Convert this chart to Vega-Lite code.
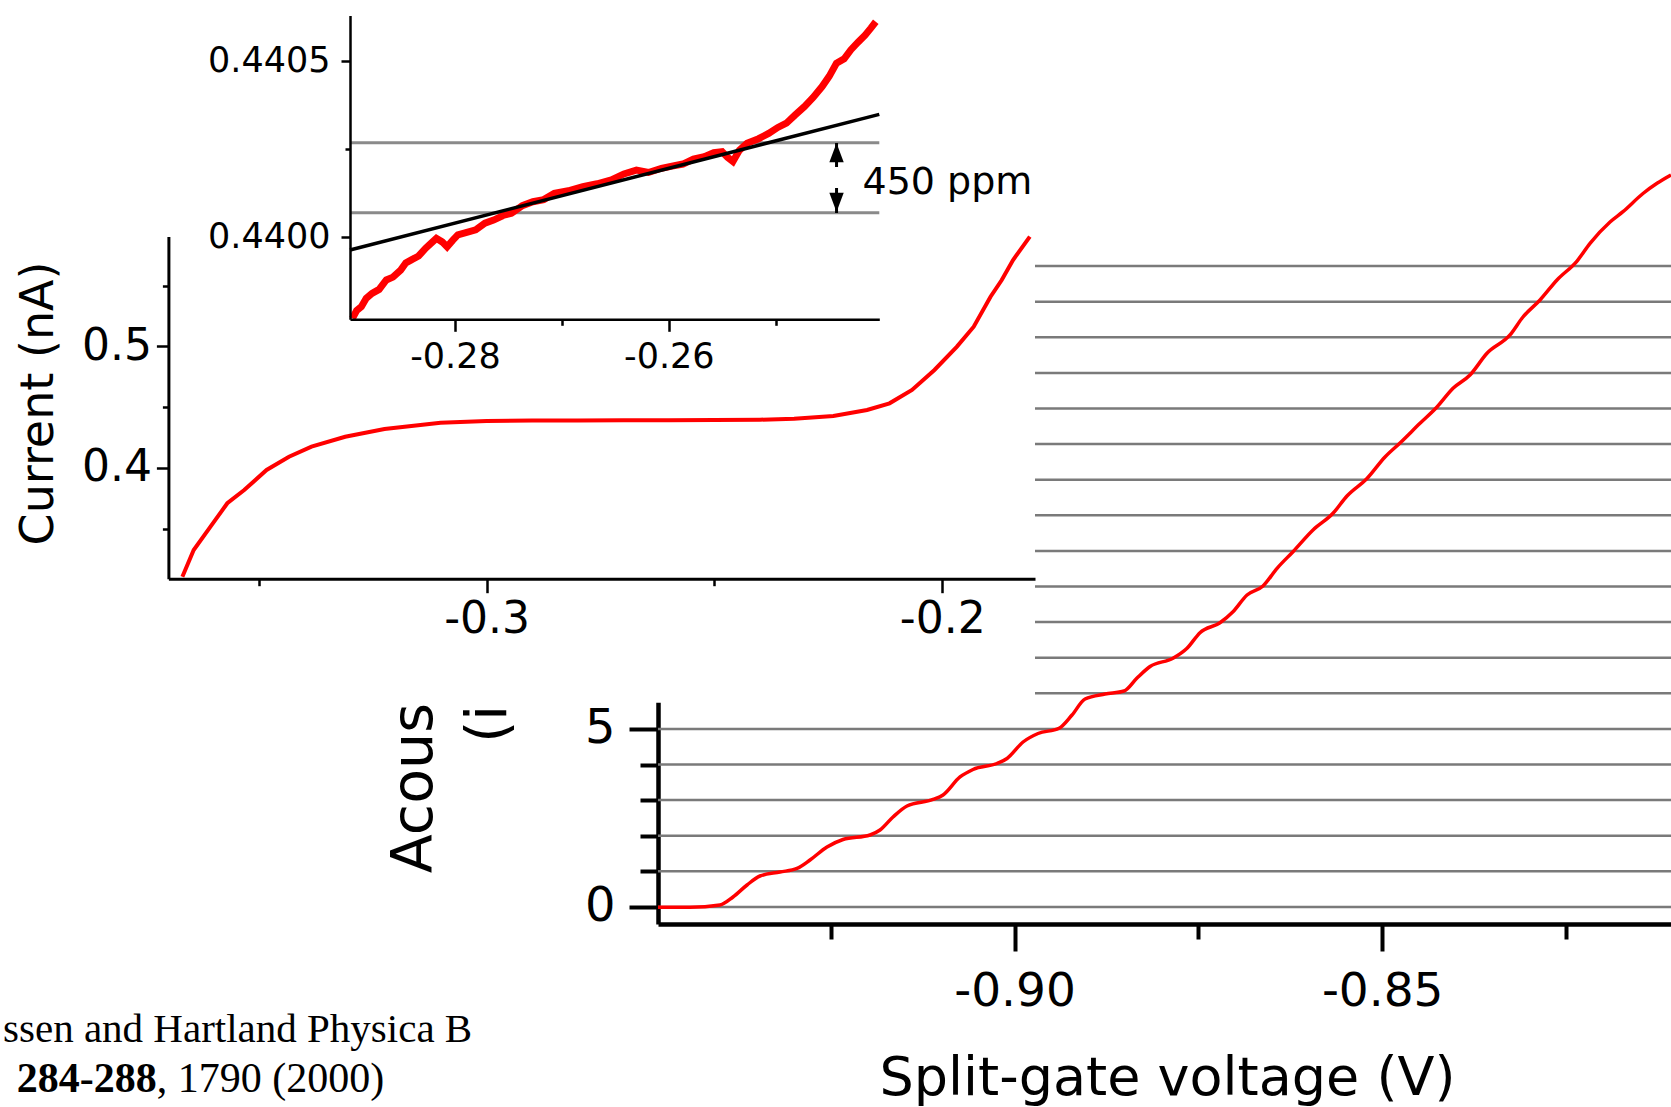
{
  "$schema": "https://vega.github.io/schema/vega-lite/v6.json",
  "width": 1671,
  "height": 1107,
  "autosize": {"type": "none"},
  "padding": 0,
  "background": "white",
  "config": {
    "view": {"stroke": null},
    "axis": {
      "grid": false,
      "domainColor": "black",
      "tickColor": "black",
      "labelColor": "black",
      "titleColor": "black",
      "labelFont": "DejaVu Sans",
      "titleFont": "DejaVu Sans",
      "titleFontWeight": "normal",
      "labelOverlap": false,
      "labelFlush": false
    }
  },
  "datasets": {
    "acoustic": [
      {"v": -0.94848, "i": -0.011}, {"v": -0.94413, "i": -0.011}, {"v": -0.94005, "i": 0.053},
      {"v": -0.93828, "i": 0.278}, {"v": -0.93637, "i": 0.615}, {"v": -0.93461, "i": 0.868},
      {"v": -0.93189, "i": 0.98}, {"v": -0.92958, "i": 1.079}, {"v": -0.92781, "i": 1.317},
      {"v": -0.9255, "i": 1.683}, {"v": -0.92332, "i": 1.893}, {"v": -0.91965, "i": 2.02},
      {"v": -0.91829, "i": 2.16}, {"v": -0.91652, "i": 2.525}, {"v": -0.91462, "i": 2.834},
      {"v": -0.91108, "i": 3.017}, {"v": -0.90972, "i": 3.143}, {"v": -0.90741, "i": 3.649},
      {"v": -0.90564, "i": 3.86}, {"v": -0.90238, "i": 4.028}, {"v": -0.90102, "i": 4.169},
      {"v": -0.89884, "i": 4.632}, {"v": -0.8968, "i": 4.871}, {"v": -0.89395, "i": 5.017},
      {"v": -0.89218, "i": 5.39}, {"v": -0.89041, "i": 5.84}, {"v": -0.88769, "i": 5.98},
      {"v": -0.88511, "i": 6.065}, {"v": -0.88334, "i": 6.43}, {"v": -0.88157, "i": 6.753},
      {"v": -0.87845, "i": 6.983}, {"v": -0.87654, "i": 7.264}, {"v": -0.87478, "i": 7.702},
      {"v": -0.87206, "i": 7.983}, {"v": -0.87029, "i": 8.292}, {"v": -0.86838, "i": 8.761},
      {"v": -0.86621, "i": 9.014}, {"v": -0.8643, "i": 9.511}, {"v": -0.86213, "i": 9.978},
      {"v": -0.85941, "i": 10.587}, {"v": -0.85669, "i": 11.056}, {"v": -0.85479, "i": 11.542},
      {"v": -0.85207, "i": 12.034}, {"v": -0.84962, "i": 12.638}, {"v": -0.84758, "i": 13.031},
      {"v": -0.84486, "i": 13.584}, {"v": -0.84255, "i": 14.042}, {"v": -0.84037, "i": 14.567},
      {"v": -0.83806, "i": 14.941}, {"v": -0.83575, "i": 15.551}, {"v": -0.83262, "i": 16.065},
      {"v": -0.83086, "i": 16.57}, {"v": -0.82854, "i": 17.048}, {"v": -0.82623, "i": 17.61},
      {"v": -0.82351, "i": 18.143}, {"v": -0.82174, "i": 18.64}, {"v": -0.81902, "i": 19.239},
      {"v": -0.81726, "i": 19.528}, {"v": -0.81454, "i": 20.039}, {"v": -0.81263, "i": 20.326},
      {"v": -0.81073, "i": 20.559}
    ],
    "gridlevels": [
      {"level": 0}, {"level": 1}, {"level": 2}, {"level": 3}, {"level": 4}, {"level": 5},
      {"level": 6}, {"level": 7}, {"level": 8}, {"level": 9}, {"level": 10}, {"level": 11},
      {"level": 12}, {"level": 13}, {"level": 14}, {"level": 15}, {"level": 16}, {"level": 17},
      {"level": 18}
    ],
    "current": [
      {"v": -0.36677, "i": 0.3103}, {"v": -0.36429, "i": 0.3323}, {"v": -0.3606, "i": 0.3515},
      {"v": -0.35691, "i": 0.3708}, {"v": -0.3532, "i": 0.3817}, {"v": -0.34829, "i": 0.3982},
      {"v": -0.34337, "i": 0.4091}, {"v": -0.33843, "i": 0.4174}, {"v": -0.33104, "i": 0.4256},
      {"v": -0.32241, "i": 0.432}, {"v": -0.3101, "i": 0.4371}, {"v": -0.3, "i": 0.4386},
      {"v": -0.29, "i": 0.4389}, {"v": -0.28, "i": 0.439}, {"v": -0.27, "i": 0.4391},
      {"v": -0.26, "i": 0.4392}, {"v": -0.25, "i": 0.4393}, {"v": -0.24, "i": 0.4396},
      {"v": -0.2325, "i": 0.4404}, {"v": -0.2239, "i": 0.4427}, {"v": -0.2165, "i": 0.4476},
      {"v": -0.21157, "i": 0.4531}, {"v": -0.20663, "i": 0.4641}, {"v": -0.20171, "i": 0.4806},
      {"v": -0.19677, "i": 0.4998}, {"v": -0.19309, "i": 0.5162}, {"v": -0.1894, "i": 0.5409},
      {"v": -0.18694, "i": 0.5547}, {"v": -0.18446, "i": 0.5712}, {"v": -0.18077, "i": 0.5904}
    ],
    "inset": [
      {"v": -0.28959, "i": 0.439768}, {"v": -0.2892, "i": 0.43979}, {"v": -0.28876, "i": 0.439801},
      {"v": -0.2883, "i": 0.439825}, {"v": -0.28776, "i": 0.439839}, {"v": -0.2871, "i": 0.43985},
      {"v": -0.28642, "i": 0.439877}, {"v": -0.2858, "i": 0.439885}, {"v": -0.28508, "i": 0.439905},
      {"v": -0.2846, "i": 0.439925}, {"v": -0.28408, "i": 0.439934}, {"v": -0.2834, "i": 0.439945},
      {"v": -0.28274, "i": 0.439967}, {"v": -0.2822, "i": 0.439982}, {"v": -0.28174, "i": 0.439995},
      {"v": -0.2812, "i": 0.439985}, {"v": -0.28074, "i": 0.439971}, {"v": -0.2802, "i": 0.43999},
      {"v": -0.27973, "i": 0.440005}, {"v": -0.2789, "i": 0.440012}, {"v": -0.27806, "i": 0.440019},
      {"v": -0.2772, "i": 0.440038}, {"v": -0.27639, "i": 0.440047}, {"v": -0.2755, "i": 0.44006},
      {"v": -0.27472, "i": 0.440066}, {"v": -0.2737, "i": 0.440088}, {"v": -0.27271, "i": 0.440099},
      {"v": -0.2717, "i": 0.440105}, {"v": -0.27071, "i": 0.440123}, {"v": -0.2694, "i": 0.44013},
      {"v": -0.26804, "i": 0.440142}, {"v": -0.2667, "i": 0.44015}, {"v": -0.26537, "i": 0.440161},
      {"v": -0.2642, "i": 0.440178}, {"v": -0.26303, "i": 0.440189}, {"v": -0.2619, "i": 0.440182},
      {"v": -0.26069, "i": 0.440194}, {"v": -0.2597, "i": 0.4402}, {"v": -0.25868, "i": 0.440206},
      {"v": -0.2577, "i": 0.44022}, {"v": -0.25668, "i": 0.440227}, {"v": -0.2558, "i": 0.440238},
      {"v": -0.25501, "i": 0.440241}, {"v": -0.2545, "i": 0.440225}, {"v": -0.254, "i": 0.440213},
      {"v": -0.2534, "i": 0.440245}, {"v": -0.25268, "i": 0.440265}, {"v": -0.2516, "i": 0.440278},
      {"v": -0.25066, "i": 0.440293}, {"v": -0.2498, "i": 0.44031}, {"v": -0.249, "i": 0.440322},
      {"v": -0.2482, "i": 0.440345}, {"v": -0.24732, "i": 0.440369}, {"v": -0.2465, "i": 0.440395},
      {"v": -0.24566, "i": 0.440426}, {"v": -0.245, "i": 0.440455}, {"v": -0.24432, "i": 0.440492},
      {"v": -0.2436, "i": 0.440505}, {"v": -0.24298, "i": 0.44053}, {"v": -0.2423, "i": 0.440552},
      {"v": -0.24164, "i": 0.440572}, {"v": -0.2411, "i": 0.440592}, {"v": -0.24064, "i": 0.44061}
    ],
    "fit": [
      {"v": -0.28982, "i": 0.439962}, {"v": -0.24031, "i": 0.4403472}
    ],
    "bounds": [
      {"level": 0.4400679}, {"level": 0.4402666}
    ]
  },
  "resolve": {"scale": {"x": "independent", "y": "independent"}, "axis": {"x": "independent", "y": "independent"}},
  "layer": [
    {
      "data": {"name": "gridlevels"},
      "mark": {"type": "rule", "color": "#7a7a7a", "strokeWidth": 2.5},
      "encoding": {
        "y": {"field": "level", "type": "quantitative", "axis": null,
              "scale": {"domain": [-0.4803, 21.542], "range": [924, 140], "nice": false, "zero": false}},
        "x": {"datum": -0.94848, "type": "quantitative", "axis": null,
              "scale": {"domain": [-0.94848, -0.81073], "range": [658, 1671], "nice": false, "zero": false}},
        "x2": {"datum": -0.81073}
      }
    },
    {
      "data": {"name": "acoustic"},
      "mark": {"type": "line", "color": "#ff0000", "strokeWidth": 3.5, "interpolate": "monotone"},
      "encoding": {
        "x": {"field": "v", "type": "quantitative",
              "scale": {"domain": [-0.94848, -0.81073], "range": [658, 1671], "nice": false, "zero": false},
              "axis": {
                "orient": "bottom", "offset": -183,
                "values": [-0.925, -0.9, -0.875, -0.85, -0.825],
                "labelExpr": "round(datum.value*1000) == -900 ? '-0.90' : round(datum.value*1000) == -850 ? '-0.85' : ''",
                "tickSize": {"condition": {"test": "round(datum.value*1000) % 50 == 0", "value": 27}, "value": 15},
                "labelPadding": 17, "labelFontSize": 47,
                "domainWidth": 4.5, "tickWidth": 4,
                "title": "Split-gate voltage (V)", "titleFontSize": 54,
                "titleX": 1167, "titleY": 170, "titleAlign": "center", "titleBaseline": "alphabetic"
              }},
        "y": {"field": "i", "type": "quantitative",
              "scale": {"domain": [-0.4803, 21.542], "range": [924, 140], "nice": false, "zero": false},
              "axis": {
                "orient": "left", "offset": -658,
                "values": [0, 1, 2, 3, 4, 5],
                "labelExpr": "datum.value == 0 ? '0' : datum.value == 5 ? '5' : ''",
                "tickSize": {"condition": {"test": "datum.value == 0 || datum.value == 5", "value": 29}, "value": 18},
                "labelPadding": 14, "labelFontSize": 48,
                "domainWidth": 4.5, "tickWidth": 4,
                "title": ["Acoustoelectric current", "(in units of ef)"], "titleFontSize": 57,
                "titleX": -226.4, "titleY": 542, "titleAngle": 270, "titleAlign": "center",
                "titleBaseline": "alphabetic", "titleLineHeight": 74
              }}
      }
    },
    {
      "data": {"values": [{}]},
      "mark": {"type": "text", "text": "ssen and Hartland Physica B", "font": "Liberation Serif", "fontSize": 41, "align": "left", "baseline": "alphabetic", "color": "black"},
      "encoding": {
        "x": {"datum": -1.03754, "type": "quantitative", "axis": null,
              "scale": {"domain": [-0.94848, -0.81073], "range": [658, 1671], "nice": false, "zero": false}},
        "y": {"datum": -3.7865, "type": "quantitative", "axis": null,
              "scale": {"domain": [-0.4803, 21.542], "range": [924, 140], "nice": false, "zero": false}}
      }
    },
    {
      "data": {"values": [{}]},
      "mark": {"type": "text", "text": "284-288", "font": "Liberation Serif", "fontSize": 42, "fontWeight": "bold", "align": "left", "baseline": "alphabetic", "color": "black"},
      "encoding": {
        "x": {"datum": -1.03568, "type": "quantitative", "axis": null,
              "scale": {"domain": [-0.94848, -0.81073], "range": [658, 1671], "nice": false, "zero": false}},
        "y": {"datum": -5.191, "type": "quantitative", "axis": null,
              "scale": {"domain": [-0.4803, 21.542], "range": [924, 140], "nice": false, "zero": false}}
      }
    },
    {
      "data": {"values": [{}]},
      "mark": {"type": "text", "text": ", 1790 (2000)", "font": "Liberation Serif", "fontSize": 42, "align": "left", "baseline": "alphabetic", "color": "black"},
      "encoding": {
        "x": {"datum": -1.01664, "type": "quantitative", "axis": null,
              "scale": {"domain": [-0.94848, -0.81073], "range": [658, 1671], "nice": false, "zero": false}},
        "y": {"datum": -5.191, "type": "quantitative", "axis": null,
              "scale": {"domain": [-0.4803, 21.542], "range": [924, 140], "nice": false, "zero": false}}
      }
    },
    {
      "data": {"values": [{}]},
      "mark": {"type": "rect", "color": "white"},
      "encoding": {
        "x": {"datum": -0.409, "type": "quantitative", "axis": null,
              "scale": {"domain": [-0.36984, -0.17964], "range": [168.4, 1035], "nice": false, "zero": false}},
        "x2": {"datum": -0.17964},
        "y": {"datum": 0.20651, "type": "quantitative", "axis": null,
              "scale": {"domain": [0.30865, 0.59044], "range": [578.7, 236.6], "nice": false, "zero": false}},
        "y2": {"datum": 0.79358}
      }
    },
    {
      "data": {"name": "current"},
      "mark": {"type": "line", "color": "#ff0000", "strokeWidth": 4},
      "encoding": {
        "x": {"field": "v", "type": "quantitative",
              "scale": {"domain": [-0.36984, -0.17964], "range": [168.4, 1035], "nice": false, "zero": false},
              "axis": {
                "orient": "bottom", "offset": -528.3, "zindex": 1,
                "values": [-0.35, -0.3, -0.25, -0.2],
                "labelExpr": "round(datum.value*100) == -30 ? '-0.3' : round(datum.value*100) == -20 ? '-0.2' : ''",
                "tickSize": {"condition": {"test": "round(datum.value*100) % 10 == 0", "value": 14}, "value": 7},
                "labelPadding": 5, "labelFontSize": 44,
                "domainWidth": 3, "tickWidth": 2.5,
                "title": null
              }},
        "y": {"field": "i", "type": "quantitative",
              "scale": {"domain": [0.30865, 0.59044], "range": [578.7, 236.6], "nice": false, "zero": false},
              "axis": {
                "orient": "left", "offset": -168.4, "zindex": 1,
                "values": [0.35, 0.4, 0.45, 0.5, 0.55],
                "labelExpr": "round(datum.value*100) == 40 ? '0.4' : round(datum.value*100) == 50 ? '0.5' : ''",
                "tickSize": {"condition": {"test": "round(datum.value*100) % 10 == 0", "value": 12}, "value": 6},
                "labelPadding": 5, "labelFontSize": 44,
                "domainWidth": 3, "tickWidth": 2.5,
                "title": "Current (nA)", "titleFontSize": 46,
                "titleX": -115.5, "titleY": 403, "titleAngle": 270, "titleAlign": "center", "titleBaseline": "alphabetic"
              }}
      }
    },
    {
      "data": {"name": "bounds"},
      "mark": {"type": "rule", "color": "#8a8a8a", "strokeWidth": 3},
      "encoding": {
        "y": {"field": "level", "type": "quantitative", "axis": null,
              "scale": {"domain": [0.4397652, 0.4406278], "range": [319.3, 15.5], "nice": false, "zero": false}},
        "x": {"datum": -0.28982, "type": "quantitative", "axis": null,
              "scale": {"domain": [-0.28982, -0.24031], "range": [350, 879.3], "nice": false, "zero": false}},
        "x2": {"datum": -0.24031}
      }
    },
    {
      "data": {"name": "inset"},
      "mark": {"type": "line", "color": "#ff0000", "strokeWidth": 7},
      "encoding": {
        "x": {"field": "v", "type": "quantitative",
              "scale": {"domain": [-0.28982, -0.24031], "range": [350, 879.3], "nice": false, "zero": false},
              "axis": {
                "orient": "bottom", "offset": -787.7, "zindex": 1,
                "values": [-0.28, -0.27, -0.26, -0.25],
                "labelExpr": "round(datum.value*100) == -28 ? '-0.28' : round(datum.value*100) == -26 ? '-0.26' : ''",
                "tickSize": {"condition": {"test": "round(datum.value*100) % 2 == 0", "value": 12}, "value": 6},
                "labelPadding": 8, "labelFontSize": 35,
                "domainWidth": 2.5, "tickWidth": 2.5,
                "title": null
              }},
        "y": {"field": "i", "type": "quantitative",
              "scale": {"domain": [0.4397652, 0.4406278], "range": [319.3, 15.5], "nice": false, "zero": false},
              "axis": {
                "orient": "left", "offset": -350, "zindex": 1,
                "values": [0.44, 0.44025, 0.4405],
                "labelExpr": "round(datum.value*100000) == 44000 ? '0.4400' : round(datum.value*100000) == 44050 ? '0.4405' : ''",
                "tickSize": {"condition": {"test": "round(datum.value*100000) % 50 == 0", "value": 9}, "value": 5},
                "labelPadding": 11, "labelFontSize": 35,
                "domainWidth": 2.5, "tickWidth": 2.5,
                "title": null
              }}
      }
    },
    {
      "data": {"name": "fit"},
      "mark": {"type": "line", "color": "black", "strokeWidth": 3.5},
      "encoding": {
        "x": {"field": "v", "type": "quantitative", "axis": null,
              "scale": {"domain": [-0.28982, -0.24031], "range": [350, 879.3], "nice": false, "zero": false}},
        "y": {"field": "i", "type": "quantitative", "axis": null,
              "scale": {"domain": [0.4397652, 0.4406278], "range": [319.3, 15.5], "nice": false, "zero": false}}
      }
    },
    {
      "data": {"values": [{}]},
      "mark": {"type": "rule", "color": "black", "strokeWidth": 3},
      "encoding": {
        "x": {"datum": -0.24431, "type": "quantitative", "axis": null,
              "scale": {"domain": [-0.28982, -0.24031], "range": [350, 879.3], "nice": false, "zero": false}},
        "y": {"datum": 0.4401976, "type": "quantitative", "axis": null,
              "scale": {"domain": [0.4397652, 0.4406278], "range": [319.3, 15.5], "nice": false, "zero": false}},
        "y2": {"datum": 0.4402658}
      }
    },
    {
      "data": {"values": [{}]},
      "mark": {"type": "rule", "color": "black", "strokeWidth": 3},
      "encoding": {
        "x": {"datum": -0.24431, "type": "quantitative", "axis": null,
              "scale": {"domain": [-0.28982, -0.24031], "range": [350, 879.3], "nice": false, "zero": false}},
        "y": {"datum": 0.440067, "type": "quantitative", "axis": null,
              "scale": {"domain": [0.4397652, 0.4406278], "range": [319.3, 15.5], "nice": false, "zero": false}},
        "y2": {"datum": 0.440138}
      }
    },
    {
      "data": {"values": [{}]},
      "mark": {"type": "point", "shape": "M0,-1L0.6,0.6L-0.6,0.6Z", "size": 576, "filled": true, "color": "black", "opacity": 1, "strokeWidth": 0},
      "encoding": {
        "x": {"datum": -0.24431, "type": "quantitative", "axis": null,
              "scale": {"domain": [-0.28982, -0.24031], "range": [350, 879.3], "nice": false, "zero": false}},
        "y": {"datum": 0.4402317, "type": "quantitative", "axis": null,
              "scale": {"domain": [0.4397652, 0.4406278], "range": [319.3, 15.5], "nice": false, "zero": false}}
      }
    },
    {
      "data": {"values": [{}]},
      "mark": {"type": "point", "shape": "M0,1L0.6,-0.6L-0.6,-0.6Z", "size": 576, "filled": true, "color": "black", "opacity": 1, "strokeWidth": 0},
      "encoding": {
        "x": {"datum": -0.24431, "type": "quantitative", "axis": null,
              "scale": {"domain": [-0.28982, -0.24031], "range": [350, 879.3], "nice": false, "zero": false}},
        "y": {"datum": 0.4401039, "type": "quantitative", "axis": null,
              "scale": {"domain": [0.4397652, 0.4406278], "range": [319.3, 15.5], "nice": false, "zero": false}}
      }
    },
    {
      "data": {"values": [{}]},
      "mark": {"type": "text", "text": "450 ppm", "font": "DejaVu Sans", "fontSize": 38, "align": "left", "baseline": "alphabetic", "color": "black"},
      "encoding": {
        "x": {"datum": -0.24188, "type": "quantitative", "axis": null,
              "scale": {"domain": [-0.28982, -0.24031], "range": [350, 879.3], "nice": false, "zero": false}},
        "y": {"datum": 0.4401218, "type": "quantitative", "axis": null,
              "scale": {"domain": [0.4397652, 0.4406278], "range": [319.3, 15.5], "nice": false, "zero": false}}
      }
    }
  ]
}
